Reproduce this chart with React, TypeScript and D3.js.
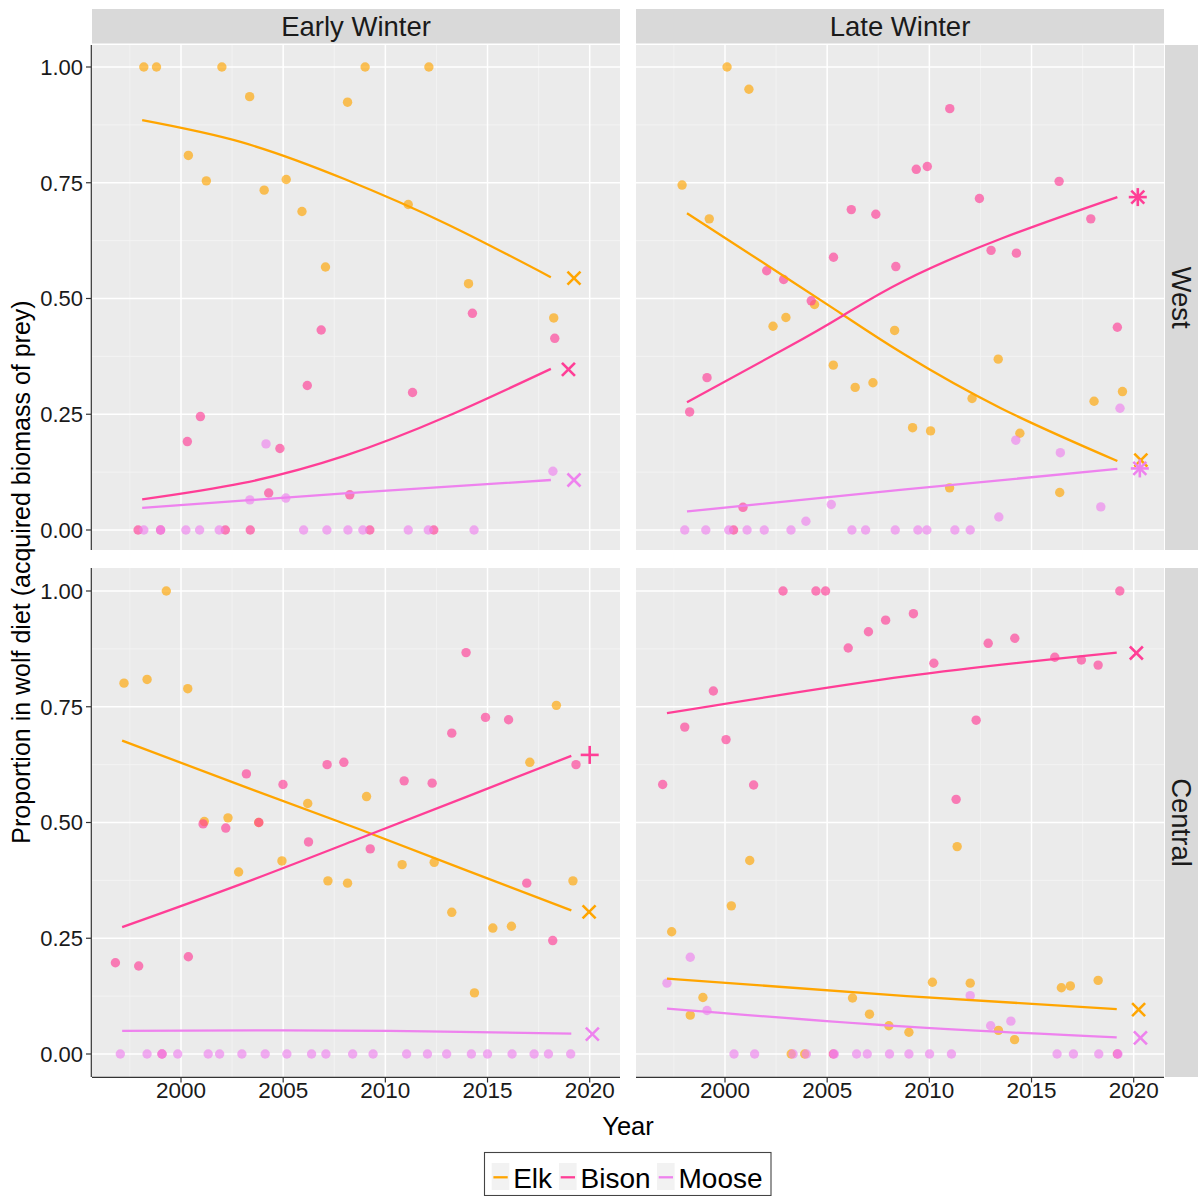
import React from 'react';
import * as d3 from 'd3';

// ---------- labels ----------
const seasons = ['Early Winter', 'Late Winter'];
const regions = ['West', 'Central'];
const speciesNames = ['Elk', 'Bison', 'Moose'];
const speciesColors = ['#FFA500', '#FF3E96', '#EE82EE'];
const xMajor = [2000, 2005, 2010, 2015, 2020];
const xMinor = [1997.5, 2002.5, 2007.5, 2012.5, 2017.5];
const yMajor = [0, 0.25, 0.5, 0.75, 1];
const yMinor = [0.125, 0.375, 0.625, 0.875];
const yTickLabels = ['0.00', '0.25', '0.50', '0.75', '1.00'];

// ---------- Early Winter / West ----------
const ewWestElk = [[1998.18,1.0],[1998.8,1.0],[2000.36,0.809],[2001.24,0.754],[2002.0,1.0],[2003.36,0.936],[2004.07,0.734],[2005.15,0.757],[2005.92,0.688],[2007.07,0.568],[2008.15,0.924],[2009.01,1.0],[2011.12,0.703],[2012.13,1.0],[2014.07,0.532],[2018.24,0.458]];
const ewWestBison = [[1997.9,0],[1999.0,0],[2000.31,0.191],[2000.95,0.245],[2002.17,0],[2003.39,0],[2004.29,0.080],[2004.84,0.176],[2006.18,0.312],[2006.86,0.432],[2008.26,0.076],[2009.24,0],[2011.33,0.297],[2012.37,0],[2014.26,0.468],[2018.29,0.414]];
const ewWestMoose = [[1998.18,0],[1999.0,0],[2000.24,0],[2000.91,0],[2001.87,0],[2003.37,0.065],[2004.16,0.186],[2005.13,0.069],[2006.0,0],[2007.14,0],[2008.17,0],[2008.9,0],[2011.12,0],[2012.1,0],[2014.34,0],[2018.2,0.127]];
const ewWestElkFit = [[1998.1,0.885],[2003,0.837],[2008,0.758],[2013,0.661],[2018.1,0.546]];
const ewWestBisonFit = [[1998.1,0.066],[2003,0.101],[2008,0.160],[2013,0.245],[2018.1,0.348]];
const ewWestMooseFit = [[1998.1,0.048],[2008,0.079],[2018.1,0.108]];
const ewWestMarkers = [[2019.23,0.544],[2018.96,0.347],[2019.23,0.108]];
const ewWestShapes = ['x','x','x'];

// ---------- Late Winter / West ----------
const lwWestElk = [[1997.9,0.745],[1999.23,0.672],[2000.1,1.0],[2001.17,0.952],[2002.35,0.440],[2002.98,0.459],[2004.38,0.487],[2005.3,0.356],[2006.37,0.308],[2007.24,0.318],[2008.3,0.431],[2009.18,0.221],[2010.06,0.214],[2010.99,0.091],[2012.09,0.284],[2013.37,0.369],[2014.43,0.209],[2016.38,0.081],[2018.06,0.278],[2019.45,0.299]];
const lwWestBison = [[1998.27,0.255],[1999.12,0.329],[2000.42,0],[2000.88,0.049],[2002.04,0.560],[2002.87,0.541],[2004.22,0.495],[2005.31,0.589],[2006.18,0.692],[2007.38,0.682],[2008.36,0.569],[2009.36,0.779],[2009.9,0.785],[2011.0,0.910],[2012.45,0.716],[2013.02,0.604],[2014.26,0.598],[2016.35,0.753],[2017.9,0.672],[2019.2,0.438]];
const lwWestMoose = [[1998.03,0],[1999.06,0],[2000.18,0],[2001.08,0],[2001.92,0],[2003.23,0],[2003.96,0.019],[2005.2,0.055],[2006.21,0],[2006.88,0],[2008.33,0],[2009.44,0],[2009.88,0],[2011.25,0],[2012.0,0],[2013.4,0.028],[2014.23,0.194],[2016.41,0.167],[2018.39,0.050],[2019.33,0.263]];
const lwWestElkFit = [[1998.14,0.684],[2003,0.545],[2005.8,0.464],[2008.75,0.380],[2013.5,0.263],[2019.2,0.149]];
const lwWestBisonFit = [[1998.14,0.276],[2003,0.393],[2005.8,0.464],[2008.75,0.538],[2013.5,0.629],[2019.2,0.719]];
const lwWestMooseFit = [[1998.14,0.040],[2008.7,0.087],[2019.2,0.132]];
const lwWestMarkers = [[2020.35,0.151],[2020.2,0.719],[2020.3,0.133]];
const lwWestShapes = ['x','star','star'];

// ---------- Early Winter / Central ----------
const ewCentralElk = [[1997.21,0.801],[1998.34,0.809],[1999.28,1.0],[2000.33,0.789],[2001.14,0.502],[2002.3,0.510],[2002.82,0.393],[2003.8,0.500],[2004.94,0.417],[2006.2,0.541],[2007.19,0.374],[2008.15,0.369],[2009.08,0.556],[2010.82,0.409],[2012.39,0.414],[2013.25,0.306],[2014.36,0.132],[2015.26,0.272],[2016.17,0.276],[2017.07,0.630],[2018.37,0.753],[2019.18,0.374]];
const ewCentralBison = [[1996.79,0.197],[1997.93,0.190],[1999.07,0],[2000.36,0.210],[2001.08,0.497],[2002.19,0.488],[2003.2,0.605],[2003.81,0.500],[2004.99,0.582],[2006.24,0.458],[2007.15,0.625],[2007.97,0.630],[2009.26,0.443],[2010.92,0.590],[2012.29,0.585],[2013.25,0.693],[2013.95,0.867],[2014.9,0.727],[2016.03,0.722],[2016.92,0.369],[2018.19,0.245],[2019.33,0.625]];
const ewCentralMoose = [[1997.03,0],[1998.34,0],[1999.07,0],[1999.84,0],[2001.33,0],[2001.89,0],[2002.98,0],[2004.12,0],[2005.18,0],[2006.39,0],[2007.09,0],[2008.4,0],[2009.4,0],[2011.04,0],[2012.06,0],[2013.0,0],[2014.21,0],[2015.0,0],[2016.2,0],[2017.28,0],[2017.98,0],[2019.07,0]];
const ewCentralElkFit = [[1997.12,0.677],[2003,0.579],[2008.7,0.486],[2014,0.396],[2019.1,0.310]];
const ewCentralBisonFit = [[1997.12,0.274],[2003,0.368],[2008.7,0.465],[2014,0.556],[2019.1,0.644]];
const ewCentralMooseFit = [[1997.12,0.050],[2005,0.051],[2012,0.049],[2019.1,0.044]];
const ewCentralMarkers = [[2019.97,0.307],[2020.0,0.646],[2020.13,0.043]];
const ewCentralShapes = ['x','plus','x'];

// ---------- Late Winter / Central ----------
const lwCentralElk = [[1997.39,0.264],[1998.3,0.084],[1998.92,0.122],[2000.31,0.320],[2001.21,0.418],[2003.24,0],[2003.9,0],[2006.24,0.121],[2007.07,0.086],[2008.02,0.061],[2009.0,0.047],[2010.15,0.155],[2011.36,0.448],[2012.0,0.153],[2013.38,0.051],[2014.17,0.031],[2016.46,0.143],[2016.9,0.147],[2018.26,0.159]];
const lwCentralBison = [[1996.95,0.582],[1998.03,0.706],[1999.43,0.784],[2000.05,0.679],[2001.4,0.581],[2002.84,1.0],[2004.45,1.0],[2004.92,1.0],[2005.3,0],[2006.03,0.877],[2007.02,0.912],[2007.86,0.937],[2009.22,0.951],[2010.22,0.844],[2011.31,0.550],[2012.29,0.721],[2012.88,0.887],[2014.18,0.898],[2016.14,0.857],[2017.44,0.851],[2018.26,0.840],[2019.2,0],[2019.32,1.0]];
const lwCentralMoose = [[1997.16,0.153],[1998.3,0.209],[1999.12,0.094],[2000.44,0],[2001.45,0],[2003.33,0],[2003.98,0],[2005.35,0],[2006.44,0],[2006.96,0],[2008.05,0],[2009.0,0],[2010.01,0],[2011.08,0],[2012.0,0.126],[2013.0,0.061],[2013.99,0.071],[2016.25,0],[2017.05,0],[2018.29,0],[2019.23,0]];
const lwCentralElkFit = [[1997.16,0.163],[2008.9,0.125],[2019.17,0.097]];
const lwCentralBisonFit = [[1997.16,0.736],[2008.9,0.816],[2019.17,0.867]];
const lwCentralMooseFit = [[1997.16,0.098],[2008.9,0.059],[2019.17,0.036]];
const lwCentralMarkers = [[2020.24,0.096],[2020.13,0.866],[2020.33,0.035]];
const lwCentralShapes = ['x','x','x'];

const panels = [
  { row: 0, col: 0, pts: [ewWestElk, ewWestBison, ewWestMoose], fits: [ewWestElkFit, ewWestBisonFit, ewWestMooseFit], marks: ewWestMarkers, shapes: ewWestShapes },
  { row: 0, col: 1, pts: [lwWestElk, lwWestBison, lwWestMoose], fits: [lwWestElkFit, lwWestBisonFit, lwWestMooseFit], marks: lwWestMarkers, shapes: lwWestShapes },
  { row: 1, col: 0, pts: [ewCentralElk, ewCentralBison, ewCentralMoose], fits: [ewCentralElkFit, ewCentralBisonFit, ewCentralMooseFit], marks: ewCentralMarkers, shapes: ewCentralShapes },
  { row: 1, col: 1, pts: [lwCentralElk, lwCentralBison, lwCentralMoose], fits: [lwCentralElkFit, lwCentralBisonFit, lwCentralMooseFit], marks: lwCentralMarkers, shapes: lwCentralShapes },
];

// ---------- layout ----------
const W = 1198, H = 1196;
const colX = [92, 636];
const panelW = 528;
const rowY = [45, 568];
const rowH = [505, 509];
const FONT = '"Liberation Sans", Arial, Helvetica, sans-serif';

const xScale = d3.scaleLinear().domain([2000, 2020]).range([89, 497.7]);
const yScales = [
  d3.scaleLinear().domain([0, 1]).range([485, 22]),
  d3.scaleLinear().domain([0, 1]).range([486, 23]),
];

function Marker({ shape, x, y, color }) {
  const a = 6.5, p = 9;
  const sw = 2.6;
  const xs = (
    <g key="x">
      <line x1={x - a} y1={y - a} x2={x + a} y2={y + a} stroke={color} strokeWidth={sw} />
      <line x1={x - a} y1={y + a} x2={x + a} y2={y - a} stroke={color} strokeWidth={sw} />
    </g>
  );
  const plus = (
    <g key="p">
      <line x1={x - p} y1={y} x2={x + p} y2={y} stroke={color} strokeWidth={sw} />
      <line x1={x} y1={y - p} x2={x} y2={y + p} stroke={color} strokeWidth={sw} />
    </g>
  );
  if (shape === 'x') return xs;
  if (shape === 'plus') return plus;
  return <g>{xs}{plus}</g>;
}

function Panel({ p, idx }) {
  const x0 = colX[p.col], y0 = rowY[p.row], h = rowH[p.row];
  const ys = yScales[p.row];
  const line = d3.line().x((d) => xScale(d[0])).y((d) => ys(d[1])).curve(d3.curveNatural);
  return (
    <g transform={`translate(${x0},${y0})`}>
      <defs>
        <clipPath id={`clip${idx}`}><rect x={0} y={0} width={panelW} height={h} /></clipPath>
      </defs>
      <rect x={0} y={0} width={panelW} height={h} fill="#EBEBEB" />
      {yMinor.map((v) => <line key={'ym' + v} x1={0} x2={panelW} y1={ys(v)} y2={ys(v)} stroke="#F5F5F5" strokeWidth={0.8} />)}
      {xMinor.map((v) => <line key={'xm' + v} y1={0} y2={h} x1={xScale(v)} x2={xScale(v)} stroke="#F5F5F5" strokeWidth={0.8} />)}
      {yMajor.map((v) => <line key={'yM' + v} x1={0} x2={panelW} y1={ys(v)} y2={ys(v)} stroke="#FFFFFF" strokeWidth={1.5} />)}
      {xMajor.map((v) => <line key={'xM' + v} y1={0} y2={h} x1={xScale(v)} x2={xScale(v)} stroke="#FFFFFF" strokeWidth={1.5} />)}
      <g clipPath={`url(#clip${idx})`}>
        {p.pts.map((arr, si) =>
          arr.map((d, i) => (
            <circle key={si + '-' + i} cx={xScale(d[0])} cy={ys(d[1])} r={4.7} fill={speciesColors[si]} fillOpacity={0.65} />
          ))
        )}
        {p.fits.map((arr, si) => (
          <path key={'f' + si} d={line(arr)} fill="none" stroke={speciesColors[si]} strokeWidth={2.3} />
        ))}
        {p.marks.map((d, si) => (
          <Marker key={'m' + si} shape={p.shapes[si]} x={xScale(d[0])} y={ys(d[1])} color={speciesColors[si]} />
        ))}
      </g>
    </g>
  );
}

export default function App() {
  return (
    <svg width={W} height={H} style={{ position: 'absolute', left: 0, top: 0, background: '#FFFFFF' }} fontFamily={FONT}>
      <rect x={0} y={0} width={W} height={H} fill="#FFFFFF" />
      {panels.map((p, i) => <Panel key={i} p={p} idx={i} />)}

      {/* top strips */}
      {seasons.map((s, c) => (
        <g key={s}>
          <rect x={colX[c]} y={9} width={panelW} height={34.5} fill="#D9D9D9" />
          <text x={colX[c] + panelW / 2} y={36} textAnchor="middle" fontSize={27.5} fill="#1A1A1A">{s}</text>
        </g>
      ))}
      {/* right strips */}
      {regions.map((r, ri) => (
        <g key={r}>
          <rect x={1165} y={rowY[ri]} width={36} height={rowH[ri]} fill="#D9D9D9" />
          <text transform={`translate(${1172}, ${rowY[ri] + rowH[ri] / 2}) rotate(90)`} textAnchor="middle" fontSize={27.5} fill="#1A1A1A">{r}</text>
        </g>
      ))}

      {/* y axes */}
      {[0, 1].map((ri) => (
        <g key={'ya' + ri}>
          <line x1={91.3} x2={91.3} y1={rowY[ri]} y2={rowY[ri] + rowH[ri]} stroke="#333333" strokeWidth={1.2} />
          {yMajor.map((v, k) => (
            <g key={v}>
              <line x1={86} x2={91} y1={rowY[ri] + yScales[ri](v)} y2={rowY[ri] + yScales[ri](v)} stroke="#333333" strokeWidth={1.2} />
              <text x={83} y={rowY[ri] + yScales[ri](v)} dy="0.36em" textAnchor="end" fontSize={22} fill="#1A1A1A">{yTickLabels[k]}</text>
            </g>
          ))}
        </g>
      ))}

      {/* x axes */}
      {[0, 1].map((c) => (
        <g key={'xa' + c}>
          <line x1={colX[c]} x2={colX[c] + panelW} y1={1077.4} y2={1077.4} stroke="#333333" strokeWidth={1.2} />
          {xMajor.map((v) => (
            <g key={v}>
              <line x1={colX[c] + xScale(v)} x2={colX[c] + xScale(v)} y1={1077.4} y2={1082.5} stroke="#333333" strokeWidth={1.2} />
              <text x={colX[c] + xScale(v)} y={1098} textAnchor="middle" fontSize={22.5} fill="#1A1A1A">{v}</text>
            </g>
          ))}
        </g>
      ))}

      {/* axis titles */}
      <text x={628} y={1135} textAnchor="middle" fontSize={25.5} fill="#000000">Year</text>
      <text transform="translate(30, 572) rotate(-90)" textAnchor="middle" fontSize={25} fill="#000000">Proportion in wolf diet (acquired biomass of prey)</text>

      {/* legend */}
      <rect x={484.5} y={1152.5} width={286.5} height={43} fill="#FFFFFF" stroke="#444444" strokeWidth={1.1} />
      {speciesNames.map((s, i) => {
        const kx = [491.7, 559, 657][i];
        return (
          <g key={s}>
            <rect x={kx} y={1163} width={17.6} height={27} fill="#F2F2F2" />
            <line x1={kx + 1.7} x2={kx + 16} y1={1177.3} y2={1177.3} stroke={speciesColors[i]} strokeWidth={2.3} />
            <text x={kx + 21.5} y={1187.5} fontSize={28} fill="#000000">{s}</text>
          </g>
        );
      })}
    </svg>
  );
}
